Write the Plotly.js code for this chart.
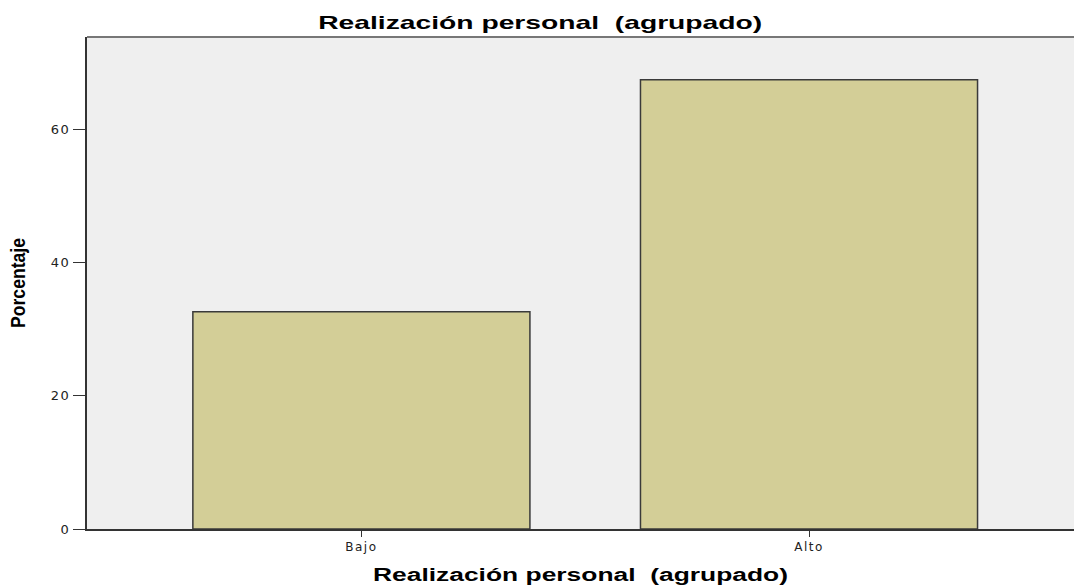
<!DOCTYPE html>
<html>
<head>
<meta charset="utf-8">
<script src="https://cdn.plot.ly/plotly-3.0.1.min.js"></script>
<style>
html,body{margin:0;padding:0;background:#fff;}
#chart{width:1074px;height:585px;}
.xtick text, .ytick text{letter-spacing:1.5px;}
</style>
</head>
<body>
<div id="chart"></div>
<script>
const categories = ["Bajo", "Alto"];
const percentages = [32.6, 67.4];
const yTickValues = [0, 20, 40, 60];
const chartTitle = "Realización personal  (agrupado)";
const xAxisTitle = "Realización personal  (agrupado)";
const yAxisTitle = "Porcentaje";

const trace = {
  type: "bar",
  x: categories,
  y: percentages,
  width: 0.753,
  marker: {color: "#D3CE97", line: {color: "#3a3a3a", width: 1.5}},
  hoverinfo: "x+y"
};

const layout = {
  width: 1074,
  height: 585,
  margin: {l: 87, r: 0, t: 37, b: 56, pad: 0},
  paper_bgcolor: "#ffffff",
  plot_bgcolor: "#EFEFEF",
  showlegend: false,
  title: {
    text: chartTitle,
    font: {family: "Liberation Sans, Arial, sans-serif", size: 19, color: "#000", weight: "bold"},
    x: 0.503, xanchor: "center", y: 0.962, yanchor: "middle"
  },
  xaxis: {
    type: "category",
    range: [-0.613, 1.592],
    showgrid: false,
    zeroline: false,
    showline: true,
    linecolor: "#333",
    linewidth: 2,
    ticks: "outside",
    ticklen: 6,
    tickwidth: 1,
    tickcolor: "#333",
    tickfont: {family: "DejaVu Sans, Liberation Sans, Arial, sans-serif", size: 12, color: "#222"},
    title: {
      text: xAxisTitle,
      font: {family: "Liberation Sans, Arial, sans-serif", size: 18, color: "#000", weight: "bold"},
      standoff: 15
    }
  },
  yaxis: {
    range: [0, 73.8],
    tickvals: yTickValues,
    showgrid: false,
    zeroline: false,
    showline: true,
    linecolor: "#333",
    linewidth: 2,
    ticks: "outside",
    ticklen: 12,
    tickwidth: 1,
    tickcolor: "#333",
    tickfont: {family: "DejaVu Sans, Liberation Sans, Arial, sans-serif", size: 13, color: "#222"},
    title: {
      text: yAxisTitle,
      font: {family: "Liberation Sans, Arial, sans-serif", size: 20, color: "#000", weight: "bold"},
      standoff: 20
    }
  },
  shapes: [
    {type: "line", xref: "paper", yref: "paper", x0: 0, x1: 1, y0: 1, y1: 1,
     line: {color: "#777", width: 2}}
  ]
};

const gd = document.getElementById("chart");
function stretchText(selector, length) {
  const t = gd.querySelector(selector);
  if (t) {
    t.setAttribute("textLength", length);
    t.setAttribute("lengthAdjust", "spacingAndGlyphs");
  }
}
Plotly.newPlot(gd, [trace], layout, {displayModeBar: false, staticPlot: true}).then(function () {
  stretchText(".gtitle", 444);
  stretchText(".xtitle", 415);
  stretchText(".ytitle", 90);
});
</script>
</body>
</html>
